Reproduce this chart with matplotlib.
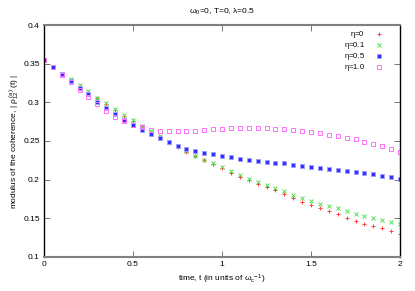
import numpy as np
import matplotlib
matplotlib.use('Agg')
import matplotlib.pyplot as plt

plt.rcParams['font.family'] = ['Liberation Sans', 'DejaVu Sans']
plt.rcParams['mathtext.fontset'] = 'custom'
plt.rcParams['mathtext.rm'] = 'Liberation Sans'
plt.rcParams['mathtext.it'] = 'Liberation Sans'
plt.rcParams['mathtext.default'] = 'regular'

# time axis, t = 0 ... 2 in steps of 0.05
t = np.round(np.arange(0, 2.0001, 0.05), 2)

# eta = 0
coh_eta0 = [0.355, 0.346, 0.337, 0.329, 0.321, 0.314, 0.305, 0.298, 0.290, 0.282,
            0.276, 0.269, 0.262, 0.255, 0.248, 0.242, 0.236, 0.230, 0.225, 0.220,
            0.215, 0.209, 0.204, 0.199, 0.195, 0.190, 0.186, 0.181, 0.176, 0.171,
            0.167, 0.163, 0.159, 0.155, 0.151, 0.147, 0.143, 0.140, 0.137, 0.133,
            0.130]
# eta = 0.1
coh_eta01 = [0.355, 0.346, 0.337, 0.330, 0.322, 0.315, 0.306, 0.299, 0.291, 0.283,
             0.277, 0.270, 0.263, 0.256, 0.249, 0.243, 0.237, 0.231, 0.226, 0.221,
             0.216, 0.211, 0.206, 0.201, 0.197, 0.193, 0.189, 0.185, 0.180, 0.176,
             0.173, 0.169, 0.166, 0.163, 0.159, 0.156, 0.153, 0.150, 0.148, 0.145,
             0.142]
# eta = 0.5
coh_eta05 = [0.355, 0.346, 0.337, 0.328, 0.319, 0.311, 0.300, 0.293, 0.285, 0.277,
             0.271, 0.264, 0.259, 0.254, 0.249, 0.244, 0.240, 0.237, 0.235, 0.233,
             0.231, 0.229, 0.227, 0.225, 0.224, 0.223, 0.222, 0.221, 0.219, 0.218,
             0.216, 0.215, 0.214, 0.212, 0.211, 0.210, 0.208, 0.207, 0.205, 0.203,
             0.201]
# eta = 1.0
coh_eta10 = [0.355, 0.346, 0.336, 0.326, 0.316, 0.307, 0.298, 0.289, 0.281, 0.276,
             0.271, 0.268, 0.264, 0.263, 0.263, 0.263, 0.263, 0.263, 0.264, 0.265,
             0.266, 0.267, 0.267, 0.267, 0.267, 0.267, 0.266, 0.265, 0.264, 0.263,
             0.262, 0.260, 0.258, 0.257, 0.254, 0.252, 0.249, 0.246, 0.243, 0.240,
             0.236]

labels = [r'$\eta$=0', r'$\eta$=0.1', r'$\eta$=0.5', r'$\eta$=1.0']

fig = plt.figure(figsize=(4.15, 2.91), dpi=100)
ax = fig.add_axes([0.106, 0.117, 0.858, 0.797])

ax.plot(t, coh_eta0, ls='none', marker='+', ms=3, mew=0.7, color='#ff4040', label=labels[0])
ax.plot(t, coh_eta01, ls='none', marker='x', ms=2.6, mew=0.7, color='#50e050', label=labels[1])
ax.plot(t, coh_eta05, ls='none', marker='s', ms=2.2, mew=0.7, mfc='#3030ff', mec='#a0a0ff',
        label=labels[2])
ax.plot(t, coh_eta10, ls='none', marker='s', ms=3.2, mew=0.7, mfc='none', mec='#ff70ff',
        label=labels[3])

ax.set_xlim(0, 2)
ax.set_ylim(0.1, 0.4)
ax.set_xticks([0, 0.5, 1, 1.5, 2])
ax.set_xticklabels(['0', '0.5', '1', '1.5', '2'])
ax.set_yticks([0.1, 0.15, 0.2, 0.25, 0.3, 0.35, 0.4])
ax.set_yticklabels(['0.1', '0.15', '0.2', '0.25', '0.3', '0.35', '0.4'])
ax.tick_params(direction='in', top=True, right=True, labelsize=6, length=4,
               width=0.6, color='#606060', pad=3)

for side in ['left', 'right']:
    ax.spines[side].set_color('black')
    ax.spines[side].set_linewidth(1.0)
for side in ['top', 'bottom']:
    ax.spines[side].set_color('#808080')
    ax.spines[side].set_linewidth(1.5)

ax.set_xlabel(r'time, t (in units of $\omega_c^{\ -1}$)', fontsize=6, labelpad=3)
ax.set_ylabel(r'modulus of the coherence, $|\ \rho_{12}^{\ (a)}\ (t)\ |$', fontsize=6, labelpad=1)
ax.set_title(r'$\omega_0$=0, T=0, $\lambda$=0.5', fontsize=6, pad=8)

leg = ax.legend(loc='upper right', markerfirst=False, frameon=False, fontsize=5.5,
                handlelength=1.0, handleheight=0.5, handletextpad=1.4, labelspacing=0.0,
                borderaxespad=0.0, bbox_to_anchor=(0.96, 0.995))

fig.savefig('out.png', dpi=100)
